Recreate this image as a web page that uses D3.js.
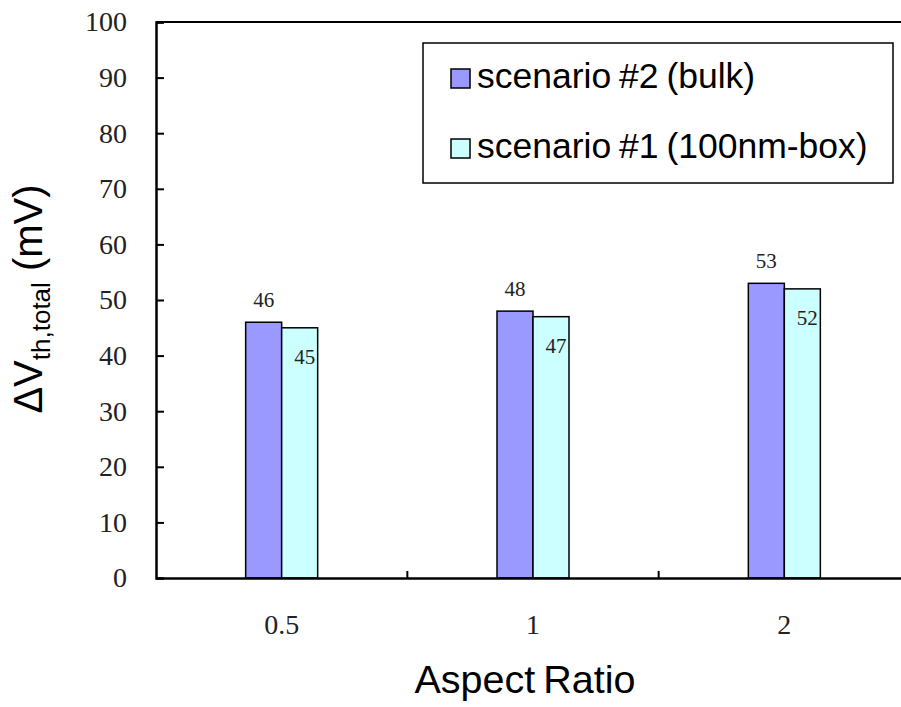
<!DOCTYPE html>
<html>
<head>
<meta charset="utf-8">
<script src="https://cdn.jsdelivr.net/npm/d3@7"></script>
<style>
  html, body { margin: 0; padding: 0; background: #fff; }
  svg { display: block; }
</style>
</head>
<body>
<svg id="chart" width="901" height="707"></svg>
<script>
// Aspect-ratio categories and threshold-voltage shifts (mV)
const categories = ["0.5", "1", "2"];
const seriesNames = ["scenario #2 (bulk)", "scenario #1 (100nm-box)"];
const bulkValues = [46, 48, 53];
const boxValues = [45, 47, 52];
const seriesColors = ["#9999FF", "#CCFFFF"];
const yTicks = [0, 10, 20, 30, 40, 50, 60, 70, 80, 90, 100];

const seriesValues = [bulkValues, boxValues];
const rows = categories.map((c, i) => ({
  cat: c,
  vals: seriesValues.map((v, s) => ({ s, value: v[i] }))
}));

const svg = d3.select("#chart");
const serif = "'Liberation Serif', 'Times New Roman', serif";
const sans = "'Liberation Sans', Arial, sans-serif";

const plot = { left: 156, right: 910, top: 22, bottom: 578 };

const x = d3.scaleBand().domain(categories).range([plot.left, plot.right]);
const barW = 36;
const xs = d3.scaleBand().domain(d3.range(seriesNames.length))
  .range([x.bandwidth() / 2 - barW, x.bandwidth() / 2 + barW]);
const y = d3.scaleLinear().domain([0, 100]).range([plot.bottom, plot.top]);

// Frame: top border line
svg.append("line")
  .attr("x1", plot.left).attr("x2", plot.right)
  .attr("y1", plot.top).attr("y2", plot.top)
  .attr("stroke", "#000").attr("stroke-width", 2);

// Bars
const groups = svg.append("g").selectAll("g").data(rows).join("g")
  .attr("transform", d => `translate(${x(d.cat)},0)`);

groups.selectAll("rect").data(d => d.vals).join("rect")
  .attr("x", d => xs(d.s))
  .attr("width", xs.bandwidth())
  .attr("y", d => y(d.value))
  .attr("height", d => y(0) - y(d.value))
  .attr("fill", d => seriesColors[d.s])
  .attr("stroke", "#000")
  .attr("stroke-width", 1.5);

// Value labels: first series above its bar, second inside near the top
groups.selectAll("text.val").data(d => d.vals).join("text")
  .attr("class", "val")
  .attr("x", d => xs(d.s) + xs.bandwidth() / 2 + (d.s === 0 ? 0 : 5))
  .attr("y", d => d.s === 0 ? y(d.value) - 15 : y(d.value) + 36)
  .attr("text-anchor", "middle")
  .attr("font-family", serif)
  .attr("font-size", 21)
  .attr("fill", "#222")
  .text(d => d.value);

// Y axis, ticks pointing into the plot
const yAxis = svg.append("g")
  .attr("transform", `translate(${plot.left},0)`)
  .call(d3.axisLeft(y).tickValues(yTicks).tickSize(-8).tickPadding(29));
yAxis.select(".domain").attr("stroke-width", 2.5);
yAxis.selectAll(".tick line").attr("stroke-width", 2);
yAxis.selectAll(".tick text")
  .attr("font-family", serif).attr("font-size", 28).attr("fill", "#222");

// X axis: labels at category centres, ticks on category boundaries
const xAxis = svg.append("g")
  .attr("transform", `translate(0,${plot.bottom})`)
  .call(d3.axisBottom(x).tickSize(0).tickPadding(0));
xAxis.select(".domain").attr("stroke-width", 2.5);
xAxis.selectAll(".tick text")
  .attr("font-family", serif).attr("font-size", 28).attr("fill", "#222")
  .attr("dy", null).attr("y", 56);

svg.append("g").selectAll("line").data(categories.slice(1)).join("line")
  .attr("x1", d => x(d)).attr("x2", d => x(d))
  .attr("y1", plot.bottom).attr("y2", plot.bottom - 7)
  .attr("stroke", "#000").attr("stroke-width", 2);

// Axis titles
svg.append("text")
  .attr("x", 525).attr("y", 693)
  .attr("text-anchor", "middle")
  .attr("font-family", sans).attr("font-size", 39.5)
  .attr("word-spacing", -3)
  .text("Aspect Ratio");

const yt = svg.append("text")
  .attr("transform", "translate(42,299) rotate(-90)")
  .attr("text-anchor", "middle")
  .attr("font-family", sans).attr("font-size", 40);
yt.append("tspan").text("\u0394V");
yt.append("tspan").attr("font-size", 26).attr("dy", 8).text("th,total");
yt.append("tspan").attr("dy", -8).text(" (mV)");

// Legend
const legend = svg.append("g");
legend.append("rect")
  .attr("x", 423).attr("y", 43).attr("width", 470).attr("height", 140)
  .attr("fill", "#fff").attr("stroke", "#000").attr("stroke-width", 1.5);
const items = legend.selectAll("g.item").data(seriesNames).join("g")
  .attr("class", "item")
  .attr("transform", (d, i) => `translate(451,${69 + i * 70})`);
items.append("rect")
  .attr("width", 19).attr("height", 19)
  .attr("fill", (d, i) => seriesColors[i])
  .attr("stroke", "#000").attr("stroke-width", 1.5);
items.append("text")
  .attr("x", 26).attr("y", 19)
  .attr("font-family", sans).attr("font-size", 35.5)
  .attr("word-spacing", -2)
  .text(d => d);
</script>
</body>
</html>
